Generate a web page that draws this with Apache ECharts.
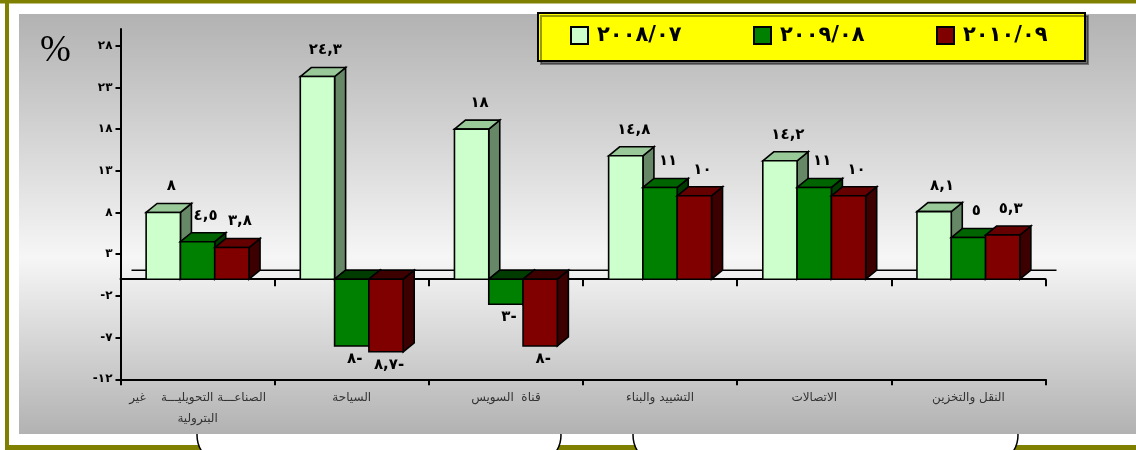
<!DOCTYPE html>
<html><head><meta charset="utf-8">
<script src="https://cdn.jsdelivr.net/npm/echarts@6/dist/echarts.min.js"></script>
<style>html,body{margin:0;padding:0;background:#fff}#c{width:1136px;height:450px}</style>
</head><body><div id="c"></div>
<script>
const categories = ['الصناعـــة التحويليـــة    غير\nالبترولية', 'السياحة', 'قناة  السويس', 'التشييد والبناء', 'الاتصالات', 'النقل والتخزين'];
const seriesNames = ['٢٠٠٨/٠٧', '٢٠٠٩/٠٨', '٢٠١٠/٠٩'];
const values2008 = [8, 24.3, 18, 14.8, 14.2, 8.1];
const values2009 = [4.5, -8, -3, 11, 11, 5];
const values2010 = [3.8, -8.7, -8, 10, 10, 5.3];
const yTicks = [-12, -7, -2, 3, 8, 13, 18, 23, 28];
const yMin = -12, yMax = 30;

const palette = [
  {front: '#CCFFCC', top: '#99C899', side: '#668866'},
  {front: '#008000', top: '#006400', side: '#003C00'},
  {front: '#800000', top: '#640000', side: '#3C0000'}
];
const DX = 11, DY = 9, BAR_FRAC = 0.2225;

function arabic(v) { return String(v).replace('.', ',').replace(/[0-9]/g, d => '٠١٢٣٤٥٦٧٨٩'[d]); }
function axisText(v) { return v < 0 ? '-' + arabic(-v) : arabic(v); }
function dataText(v) { return v < 0 ? arabic(-v) + '-' : arabic(v); }

function makeRender(si) {
  const c = palette[si];
  return function (params, api) {
    const ci = api.value(0), v = api.value(1);
    const base = api.coord([ci, 0]);
    const tip = api.coord([ci, v]);
    const band = api.size([1, 0])[0];
    const w = band * BAR_FRAC;
    const x0 = base[0] - 1.5 * w + si * w;
    const x1 = x0 + w;
    const yTop = Math.min(base[1], tip[1]);
    const yBot = Math.max(base[1], tip[1]);
    const st = (fill) => ({fill: fill, stroke: '#000', lineWidth: 1.6, lineJoin: 'miter'});
    return {
      type: 'group',
      children: [
        {type: 'polygon', z2: si * 10 + 1, shape: {points: [[x1, yBot], [x1 + DX, yBot - DY], [x1 + DX, yTop - DY], [x1, yTop]]}, style: st(c.side)},
        {type: 'polygon', z2: si * 10 + 2, shape: {points: [[x0, yTop], [x0 + DX, yTop - DY], [x1 + DX, yTop - DY], [x1, yTop]]}, style: st(v < 0 ? c.side : c.top)},
        {type: 'rect', z2: si * 10 + 3, shape: {x: x0, y: yTop, width: w, height: yBot - yTop}, style: st(c.front)},
        {type: 'text', z2: 100, style: {
          text: dataText(v),
          x: v >= 0 ? (x0 + x1) / 2 + 8 : (x0 + x1) / 2 + 3,
          y: v >= 0 ? tip[1] - 26 : tip[1] + 13,
          align: 'center', verticalAlign: 'middle',
          font: 'bold 15px "DejaVu Sans"', fill: '#000'
        }}
      ]
    };
  };
}

const allValues = [values2008, values2009, values2010];
const series = allValues.map((vals, si) => ({
  type: 'custom',
  name: seriesNames[si],
  xAxisIndex: 0, yAxisIndex: 0,
  itemStyle: {color: palette[si].front},
  encode: {x: 0, y: 1},
  data: vals.map((v, i) => [i, v]),
  renderItem: makeRender(si)
}));
series.unshift({
  type: 'custom', name: 'back', silent: true, z: 1,
  xAxisIndex: 0, yAxisIndex: 0,
  encode: {x: 0, y: 1},
  data: [[0, 0]],
  renderItem: function (params, api) {
    const cs = params.coordSys;
    const y0 = api.coord([0, 0])[1];
    return {type: 'line', shape: {x1: cs.x + DX, y1: y0 - DY, x2: cs.x + cs.width + DX, y2: y0 - DY}, style: {stroke: '#000', lineWidth: 1.6}};
  }
});

const chart = echarts.init(document.getElementById('c'));
chart.setOption({
  backgroundColor: '#ffffff',
  animation: false,
  color: palette.map(p => p.front),
  textStyle: {fontFamily: '"DejaVu Sans"'},
  grid: {left: 120.5, right: 90.5, top: 29, bottom: 70.7, containLabel: false},
  graphic: [
    {type: 'rect', z: -10, shape: {x: 0, y: 0, width: 1136, height: 3.5}, style: {fill: '#808000'}},
    {type: 'rect', z: -10, shape: {x: 5, y: 0, width: 4, height: 450}, style: {fill: '#808000'}},
    {type: 'rect', z: -10, shape: {x: 5, y: 445, width: 1131, height: 5}, style: {fill: '#808000'}},
    {type: 'rect', z: -9, shape: {x: 197, y: 405, width: 364, height: 60, r: 30}, style: {fill: '#fff', stroke: '#000', lineWidth: 1.5}},
    {type: 'rect', z: -9, shape: {x: 633, y: 405, width: 385, height: 60, r: 30}, style: {fill: '#fff', stroke: '#000', lineWidth: 1.5}},
    {type: 'rect', z: -8, shape: {x: 19, y: 14, width: 1117, height: 420}, style: {
      fill: new echarts.graphic.LinearGradient(0, 0, 0, 1, [
        {offset: 0, color: '#b2b2b2'}, {offset: 0.58, color: '#f6f6f6'}, {offset: 1, color: '#b2b2b2'}
      ])
    }},
    {type: 'text', z: 5, left: 40, top: 33, style: {text: '%', font: '37px "Liberation Serif"', fill: '#000'}}
  ],
  legend: {
    data: seriesNames, left: 538, top: 13, orient: 'horizontal',
    backgroundColor: '#ffff00', borderColor: '#000', borderWidth: 2,
    padding: [12, 26, 15, 32], itemGap: 60, itemWidth: 17, itemHeight: 17, icon: 'rect',
    itemStyle: {borderColor: '#000', borderWidth: 2},
    textStyle: {fontSize: 21, fontWeight: 'bold', color: '#000', width: 96, padding: [0, 0, 0, 4], lineHeight: 20, fontFamily: '"DejaVu Sans"'},
    shadowColor: 'rgba(0,0,0,0.4)', shadowOffsetX: 3, shadowOffsetY: 3, shadowBlur: 0,
    selectedMode: false
  },
  xAxis: [
    {type: 'category', data: categories, position: 'bottom',
      axisLine: {onZero: false, lineStyle: {color: '#000', width: 2}},
      axisTick: {show: true, interval: 0, alignWithLabel: false, length: 6, lineStyle: {color: '#000', width: 2}},
      axisLabel: {interval: 0, margin: 8, fontSize: 12, lineHeight: 21, color: '#333', fontFamily: '"DejaVu Sans"'}},
    {type: 'category', data: categories, position: 'bottom',
      axisLine: {onZero: true, lineStyle: {color: '#000', width: 2}},
      axisTick: {show: true, interval: 0, alignWithLabel: false, length: 7, lineStyle: {color: '#000', width: 2}},
      axisLabel: {show: false}}
  ],
  yAxis: {
    type: 'value', min: yMin, max: yMax, interval: 5,
    axisLine: {show: true, onZero: false, lineStyle: {color: '#000', width: 2}},
    axisTick: {show: true, length: 5, customValues: yTicks, lineStyle: {color: '#000', width: 2}},
    axisLabel: {customValues: yTicks, formatter: v => (v === yMax ? '' : axisText(v)), fontWeight: 'bold', fontSize: 12, color: '#000', margin: 8},
    splitLine: {show: false}
  },
  series: series
});
</script></body></html>
